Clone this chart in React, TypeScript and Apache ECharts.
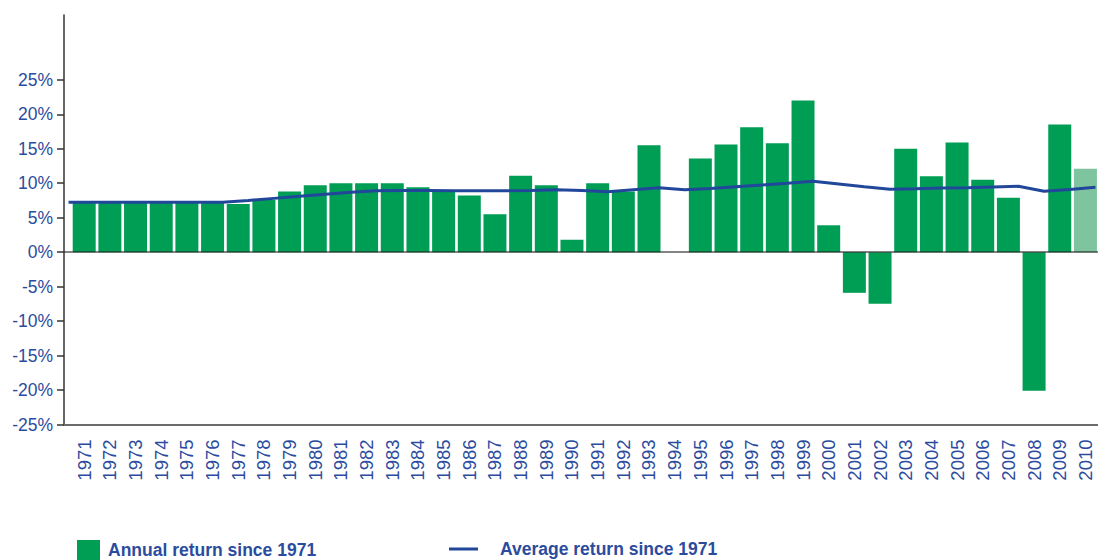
import { useEffect, useRef } from 'react';
import * as echarts from 'echarts';

const years = [
  1971, 1972, 1973, 1974, 1975, 1976, 1977, 1978, 1979, 1980,
  1981, 1982, 1983, 1984, 1985, 1986, 1987, 1988, 1989, 1990,
  1991, 1992, 1993, 1994, 1995, 1996, 1997, 1998, 1999, 2000,
  2001, 2002, 2003, 2004, 2005, 2006, 2007, 2008, 2009, 2010,
];

// Annual return (%) per year
const annualReturns = [
  7.2, 7.2, 7.2, 7.2, 7.2, 7.2, 7.0, 7.6, 8.8, 9.7,
  10.0, 10.0, 10.0, 9.4, 8.9, 8.2, 5.5, 11.1, 9.7, 1.8,
  10.0, 8.8, 15.5, 0, 13.6, 15.6, 18.1, 15.8, 22.0, 3.9,
  -5.9, -7.5, 15.0, 11.0, 15.9, 10.5, 7.9, -20.1, 18.5, 12.1,
];

// Average return since 1971 (%)
const averageReturns = [
  7.25, 7.25, 7.25, 7.25, 7.25, 7.25, 7.5, 7.8, 8.1, 8.4,
  8.7, 8.9, 8.95, 8.95, 8.9, 8.9, 8.9, 8.95, 9.05, 8.95,
  8.75, 9.05, 9.33, 9.04, 9.25, 9.5, 9.75, 10.0, 10.3, 9.9,
  9.5, 9.13, 9.2, 9.3, 9.35, 9.45, 9.55, 8.84, 9.1, 9.4,
];

const yTickValues = [-25, -20, -15, -10, -5, 0, 5, 10, 15, 20, 25];
const leadInYear = 1970;
const highlightYear = 2010;

const X_MIN = 1970.213;
const X_MAX = 2010.49;
const LINE_SHIFT = 0.39;

export default function App() {
  const ref = useRef<HTMLDivElement>(null);
  useEffect(() => {
    const chart = echarts.init(ref.current!, null, { renderer: 'svg' });
    const textBlue = '#2b4c9e';
    const lineBlue = '#21479b';
    const green = '#009e55';
    const font = 'Liberation Sans, Arial, sans-serif';
    chart.setOption({
      animation: false,
      grid: { left: 64, right: 0, top: 15, bottom: 135.5 },
      xAxis: [
        {
          type: 'value',
          min: X_MIN,
          max: X_MAX,
          position: 'bottom',
          axisLine: { show: true, onZero: false, lineStyle: { color: '#6b6b6b', width: 2 } },
          axisTick: { show: false },
          splitLine: { show: false },
          axisLabel: {
            customValues: years,
            rotate: 90,
            margin: 15,
            color: textBlue,
            fontSize: 18.5,
            fontFamily: font,
            formatter: (v: number) => String(Math.round(v)),
          },
        },
        {
          type: 'value',
          min: X_MIN - LINE_SHIFT,
          max: X_MAX - LINE_SHIFT,
          show: false,
        },
      ],
      yAxis: {
        type: 'value',
        min: -25,
        max: 34.4,
        axisLine: { show: true, onZero: false, lineStyle: { color: '#333', width: 1.5 } },
        axisTick: { show: true, customValues: yTickValues, length: 7, lineStyle: { color: '#333', width: 1.5 } },
        axisLabel: {
          customValues: yTickValues,
          formatter: (v: number) => `${v}%`,
          margin: 11,
          color: textBlue,
          fontSize: 17.5,
          fontFamily: font,
        },
        splitLine: { show: false },
      },
      legend: [
        {
          data: ['Annual return since 1971'],
          left: 77,
          top: 540,
          padding: 0,
          itemWidth: 23,
          itemHeight: 20,
          icon: 'rect',
          selectedMode: false,
          textStyle: { color: textBlue, fontSize: 17.5, fontWeight: 'bold', fontFamily: font, padding: [0, 0, 0, 3] },
        },
        {
          data: ['Average return since 1971'],
          left: 449,
          top: 540,
          padding: 0,
          itemWidth: 29,
          itemHeight: 3,
          icon: 'rect',
          selectedMode: false,
          textStyle: { color: textBlue, fontSize: 17.5, fontWeight: 'bold', fontFamily: font, padding: [0, 0, 0, 17] },
        },
      ],
      series: [
        {
          type: 'bar',
          name: 'Annual return since 1971',
          xAxisIndex: 0,
          barWidth: 23,
          itemStyle: { color: green },
          data: years.map((y, i) => ({
            value: [y, annualReturns[i]],
            itemStyle: y === highlightYear ? { color: '#7dc49f' } : undefined,
          })),
          markLine: {
            silent: true,
            symbol: ['none', 'none'],
            label: { show: false },
            lineStyle: { color: 'rgba(30,30,30,0.55)', width: 2, type: 'solid' },
            data: [{ yAxis: 0 }],
          },
        },
        {
          type: 'line',
          name: 'Average return since 1971',
          xAxisIndex: 1,
          symbol: 'none',
          lineStyle: { color: lineBlue, width: 3 },
          itemStyle: { color: lineBlue },
          data: [[leadInYear, averageReturns[0]], ...years.map((y, i) => [y, averageReturns[i]])],
        },
      ],
    });
    return () => chart.dispose();
  }, []);
  return <div ref={ref} style={{ position: 'absolute', left: 0, top: 0, width: 1098, height: 560 }} />;
}
